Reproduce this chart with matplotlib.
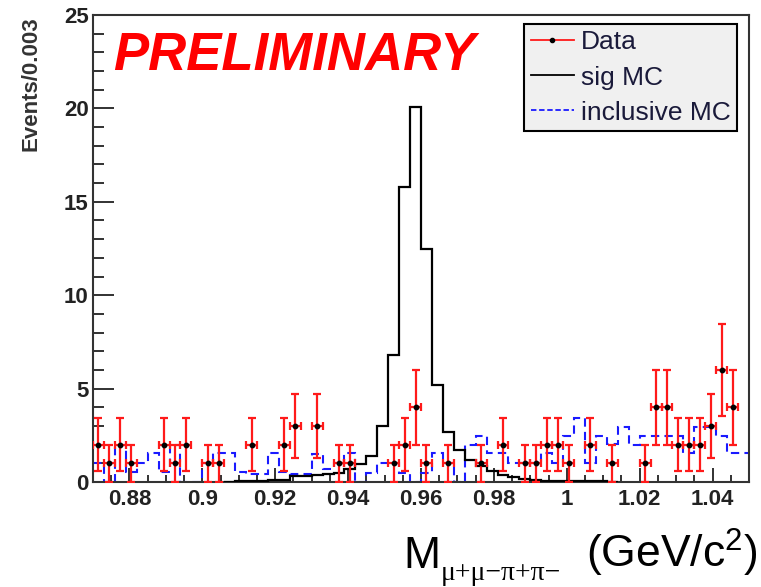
import numpy as np
import matplotlib
matplotlib.use("Agg")
import matplotlib.pyplot as plt
from matplotlib.lines import Line2D
from matplotlib.ticker import MultipleLocator, FixedLocator

plt.rcParams['font.family'] = ['Liberation Sans', 'DejaVu Sans']

# ---- data ----
x_min, x_max, bin_w = 0.87, 1.05, 0.003
data_counts = [2, 1, 2, 1, 0, 0, 2, 1, 2, 0,
               1, 1, 0, 0, 2, 0, 0, 2, 3, 0,
               3, 0, 1, 1, 0, 0, 0, 1, 2, 4,
               1, 0, 1, 0, 0, 1, 0, 2, 0, 1,
               1, 2, 2, 1, 0, 2, 0, 1, 0, 0,
               1, 4, 4, 2, 2, 2, 3, 6, 4, 0]
sig_mc = [0, 0, 0, 0, 0, 0, 0, 0, 0, 0,
          0, 0, 0.02, 0.05, 0.07, 0.08, 0.1, 0.12, 0.3, 0.32,
          0.4, 0.42, 0.5, 0.7, 0.95, 1.4, 3.0, 6.8, 15.8, 20.1,
          12.45, 5.2, 2.7, 1.72, 1.2, 0.85, 0.6, 0.4, 0.27, 0.18,
          0.12, 0.08, 0.06, 0.05, 0.04, 0.03, 0.03, 0.02, 0, 0,
          0, 0, 0, 0, 0, 0, 0, 0, 0, 0]
incl_mc = [1.0, 0, 2.0, 0.55, 1.0, 1.54, 0.55, 2.0, 0, 0,
           1.0, 1.54, 1.54, 0.55, 0.45, 0.45, 1.54, 0.55, 0.45, 0.45,
           1.5, 0.7, 1.0, 1.54, 0, 0.46, 1.0, 1.0, 0.46, 0,
           0.46, 1.54, 1.0, 0, 2.0, 2.46, 1.54, 1.54, 1.0, 1.0,
           1.0, 1.54, 1.0, 2.46, 3.4, 1.0, 2.46, 2.03, 2.96, 1.98,
           2.46, 2.46, 2.46, 2.46, 1.54, 2.96, 2.96, 2.46, 1.54, 1.54]
xtick_vals = [0.88, 0.90, 0.92, 0.94, 0.96, 0.98, 1.00, 1.02, 1.04]
xtick_labels = ['0.88', '0.9', '0.92', '0.94', '0.96', '0.98', '1', '1.02', '1.04']
ytick_vals = [0, 5, 10, 15, 20, 25]

nb = len(data_counts)
edges = x_min + bin_w * np.arange(nb + 1)
centers = 0.5 * (edges[:-1] + edges[1:])
data_counts = np.array(data_counts, dtype=float)
sig_mc = np.array(sig_mc)
incl_mc = np.array(incl_mc)

fig = plt.figure(figsize=(7.61, 5.87), dpi=100)
ax = fig.add_axes([93/761, 1 - 482/587, 656/761, 467/587])

# inclusive MC
ax.stairs(incl_mc, edges, color='#1a1aff', lw=1.5, linestyle=(0, (4, 2.5)),
          baseline=None, zorder=2)
# sig MC (only where defined)
nz = np.nonzero(sig_mc)[0]
i0, i1 = nz[0], nz[-1] + 1
ax.stairs(sig_mc[i0:i1], edges[i0:i1 + 1], color='black', lw=1.6,
          baseline=0, zorder=3)

# data
m = data_counts > 0
ax.errorbar(centers[m], data_counts[m], yerr=np.sqrt(data_counts[m]),
            xerr=bin_w / 2, fmt='none', ecolor='#ff1a1a', elinewidth=1.6,
            capsize=2.8, capthick=1.6, zorder=4)
ax.plot(centers[m], data_counts[m], 'o', color='black', ms=3.2, zorder=5)

ax.set_xlim(x_min, x_max)
ax.set_ylim(0, 25)

ax.xaxis.set_major_locator(FixedLocator(xtick_vals))
ax.set_xticklabels(xtick_labels)
ax.xaxis.set_minor_locator(MultipleLocator(0.005))
ax.yaxis.set_major_locator(FixedLocator(ytick_vals))
ax.yaxis.set_minor_locator(MultipleLocator(1))

ax.tick_params(axis='both', which='both', direction='in', top=False, right=False,
               colors='#222222', labelcolor='#222222')
ax.tick_params(axis='x', which='major', length=10, width=1.3, pad=5, labelsize=16)
ax.tick_params(axis='x', which='minor', length=5, width=1.3)
ax.tick_params(axis='y', which='major', length=15, width=1.3, pad=3, labelsize=16)
ax.tick_params(axis='y', which='minor', length=8, width=1.3)
for lab in ax.get_xticklabels() + ax.get_yticklabels():
    lab.set_fontweight('bold')
for s in ax.spines.values():
    s.set_linewidth(1.5)
    s.set_color('#333333')

fig.text(31/761, 1 - 84/587, 'Events/0.003', rotation=90, ha='center', va='center',
         fontsize=16, fontweight='bold', color='#333333')

# legend
handles = [Line2D([], [], color='#ff1a1a', lw=1.3, marker='o', ms=3, mfc='black', mec='black'),
           Line2D([], [], color='black', lw=1.3),
           Line2D([], [], color='#1a1aff', lw=1.3, linestyle=(0, (3, 1.5)))]
leg = ax.legend(handles, ['Data', 'sig MC', 'inclusive MC'], loc='upper right',
                bbox_to_anchor=(0.982, 0.981), fontsize=19, frameon=True,
                fancybox=False, framealpha=1, facecolor='#f0f0f0', edgecolor='black',
                handlelength=1.65, handletextpad=0.25, labelspacing=0.42,
                borderpad=0.25, borderaxespad=0)
leg.get_frame().set_linewidth(1.5)
for t in leg.get_texts():
    t.set_color('#1a1a3a')

# PRELIMINARY
fig.text(113/761, 1 - 70/587, 'PRELIMINARY', fontsize=38, fontweight='bold',
         fontstyle='italic', color='#ff0000', ha='left', va='baseline')

# x axis label
fig.text(403/761, 1 - 568/587, 'M', fontsize=32, color='black', ha='left', va='baseline')
fig.text(441/761, 1 - 580/587, 'μ+μ−π+π−', fontsize=20, color='black', ha='left',
         va='baseline', family=['Liberation Serif', 'DejaVu Serif'])
fig.text(757/761, 1 - 568/587, r'(GeV/c$^{\mathregular{2}}$)', fontsize=32, color='black',
         ha='right', va='baseline')

fig.savefig('out.png', dpi=100)
